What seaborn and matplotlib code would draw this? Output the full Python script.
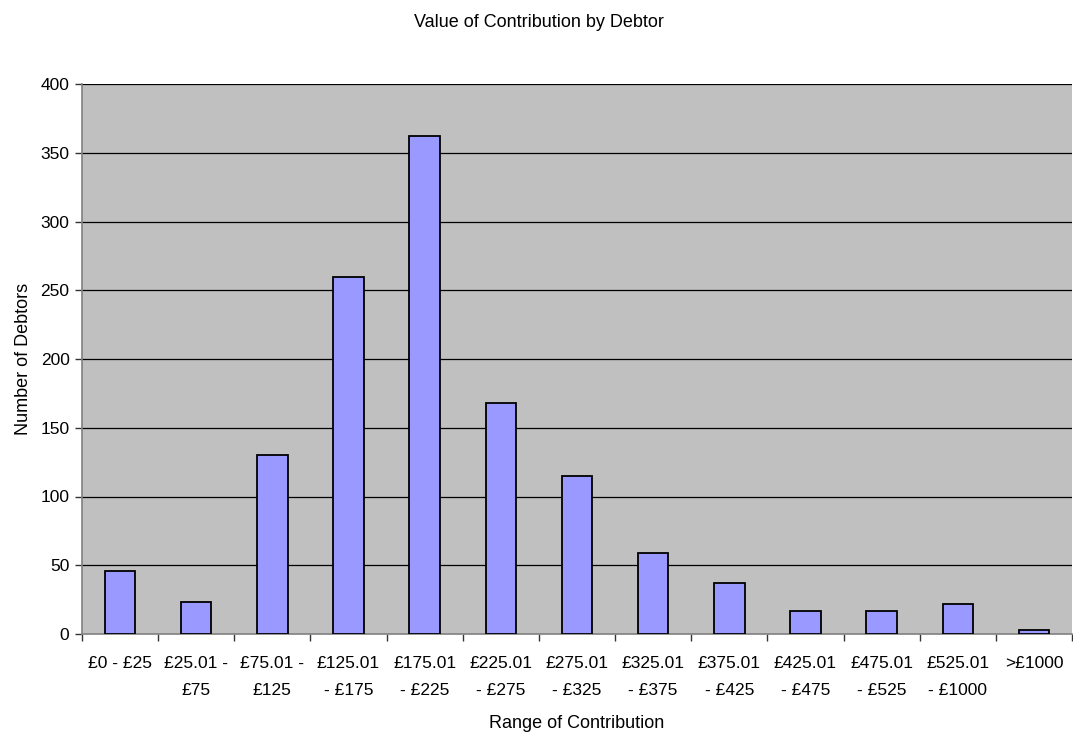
import matplotlib
matplotlib.use("Agg")
import matplotlib.pyplot as plt
import seaborn as sns
import numpy as np
import pandas as pd

# data
ranges = ["£0 - £25", "£25.01 -\n£75", "£75.01 -\n£125", "£125.01\n- £175",
          "£175.01\n- £225", "£225.01\n- £275", "£275.01\n- £325", "£325.01\n- £375",
          "£375.01\n- £425", "£425.01\n- £475", "£475.01\n- £525", "£525.01\n- £1000",
          ">£1000"]
debtors = [46, 23, 130, 260, 362, 168, 115, 59, 37, 17, 17, 22, 3]
y_ticks = [0, 50, 100, 150, 200, 250, 300, 350, 400]

df = pd.DataFrame({"Range": ranges, "Debtors": debtors})

sns.set_theme(style="white")
plt.rcParams["font.family"] = ["Liberation Sans", "DejaVu Sans"]
plt.rcParams["text.color"] = "black"
plt.rcParams["axes.labelcolor"] = "black"
plt.rcParams["xtick.color"] = "black"
plt.rcParams["ytick.color"] = "black"

fig = plt.figure(figsize=(10.73, 7.36), dpi=100)
ax = fig.add_axes([82 / 1073, 102 / 736, 990 / 1073, 550 / 736])
ax.set_facecolor("#C0C0C0")

sns.barplot(data=df, x="Range", y="Debtors", color="#9999FF", width=0.4,
            edgecolor="black", linewidth=1.3, saturation=1, ax=ax, zorder=3)

ax.set_ylim(0, 400)
ax.set_xlim(-0.5, len(ranges) - 0.5)
ax.set_yticks(y_ticks)
for v in y_ticks[1:]:
    ax.axhline(v, color="black", linewidth=0.9, zorder=1)

# ticks between categories
ax.set_xticks(np.arange(len(ranges)))
ax.set_xticklabels(ranges, fontsize=12.5, linespacing=1.95)
ax.set_xticks(np.arange(len(ranges) + 1) - 0.5, minor=True)
ax.tick_params(axis="x", which="major", length=0, pad=16)
ax.tick_params(axis="x", which="minor", length=5, width=1, color="#333333", direction="out", bottom=True)
ax.tick_params(axis="y", length=5, width=1, color="#333333", direction="out", left=True,
               labelsize=12.5, pad=4)

for s in ["top", "right"]:
    ax.spines[s].set_visible(False)
for s in ["left", "bottom"]:
    ax.spines[s].set_color("#808080")
    ax.spines[s].set_linewidth(1.2)

ax.set_xlabel("Range of Contribution", fontsize=13)
ax.set_ylabel("Number of Debtors", fontsize=13)
ax.xaxis.set_label_coords(0.5, -0.147)
ax.yaxis.set_label_coords(-0.05, 0.5)
fig.text(0.5023, 1 - 27 / 736, "Value of Contribution by Debtor", fontsize=13,
         ha="center", va="baseline")

fig.savefig("out.png", dpi=100)
